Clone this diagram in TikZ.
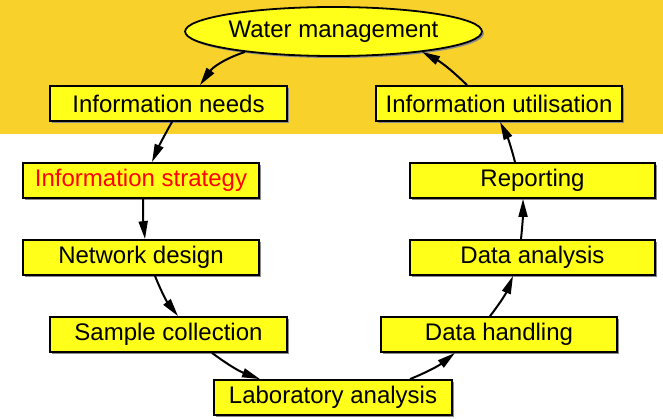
\documentclass[tikz,border=0pt]{standalone}
\usepackage{fontspec}
\setmainfont{Liberation Sans}
\usetikzlibrary{shapes.geometric,arrows.meta,shadows}
\definecolor{band}{HTML}{F9D12B}
\definecolor{boxfill}{HTML}{FFFF1A}
\tikzset{
  box/.style={draw=black, line width=1.8pt, fill=boxfill, rectangle, inner sep=0pt,
    minimum height=35pt, font=\fontsize{24}{28}\selectfont,
    drop shadow={shadow xshift=2pt, shadow yshift=-2pt, fill=black!45, opacity=1}},
  oval/.style={box, ellipse, minimum height=49pt},
  edge/.style={line width=2pt, -{Triangle[length=18pt,width=9pt]}},
}
\begin{document}
\begin{tikzpicture}[x=1pt,y=1pt]
\useasboundingbox (0,0) rectangle (663,-419);
\fill[band] (0,0) rectangle (663,-134);
\node[oval, minimum width=265pt] (water) at (333.5,-31.5) {Water management};
\node[box, minimum width=237pt] (needs) at (168.5,-103.5) {Information needs};
\node[box, minimum width=236pt, text=red] (strategy) at (141,-180.5) {Information strategy};
\node[box, minimum width=236pt] (network) at (141,-257.5) {Network design};
\node[box, minimum width=237pt] (sample) at (168.5,-334.5) {Sample collection};
\node[box, minimum width=238pt] (lab) at (333,-397.5) {Laboratory analysis};
\node[box, minimum width=236pt] (handling) at (499,-334.5) {Data handling};
\node[box, minimum width=245pt] (danalysis) at (532.5,-257.5) {Data analysis};
\node[box, minimum width=245pt] (reporting) at (532.5,-180.5) {Reporting};
\node[box, minimum width=246pt] (util) at (499,-103.5) {Information utilisation};

\draw[edge] (water.193) to[bend right=18] ([xshift=31.5pt]needs.north);
\draw[edge] ([xshift=-32pt]util.north) to[bend right=8] (water.347);
\draw[edge] ([xshift=3.5pt]needs.south) to[bend right=3] ([xshift=11pt]strategy.north);
\draw[edge] ([xshift=2pt]strategy.south) to[bend right=3] ([xshift=4pt]network.north);
\draw[edge] ([xshift=14pt]network.south) to[bend right=8] ([xshift=9.5pt]sample.north);
\draw[edge] ([xshift=43.5pt]sample.south) to[bend right=8] ([xshift=-73pt]lab.north);
\draw[edge] ([xshift=77pt]lab.north) to[bend right=8] ([xshift=-44pt]handling.south);
\draw[edge] ([xshift=-9pt]handling.north) to[bend right=8] ([xshift=-19.5pt]danalysis.south);
\draw[edge] ([xshift=-11.5pt]danalysis.north) to[bend right=3] ([xshift=-9.5pt]reporting.south);
\draw[edge] ([xshift=-17.5pt]reporting.north) to[bend right=6] ([xshift=1pt]util.south);
\end{tikzpicture}
\end{document}
